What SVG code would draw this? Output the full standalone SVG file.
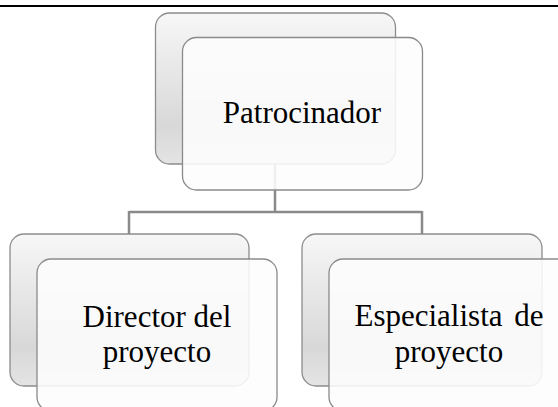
<svg xmlns="http://www.w3.org/2000/svg" width="558" height="407" viewBox="0 0 558 407">
  <defs>
    <linearGradient id="backGrad" x1="0" y1="0" x2="0" y2="1">
      <stop offset="0" stop-color="#f7f7f7"/>
      <stop offset="0.75" stop-color="#d8d8d8"/>
      <stop offset="1" stop-color="#e4e4e4"/>
    </linearGradient>
  </defs>
  <style>
    .back { fill: url(#backGrad); stroke: #8c8c8c; stroke-width: 1.3; }
    .front { fill: #fdfdfd; fill-opacity: 0.88; stroke: #8a8a8a; stroke-width: 1.3; }
    .conn { fill: none; stroke: #8a8a8a; stroke-width: 2.5; }
    .label { font-family: "Liberation Serif", "Times New Roman", serif; font-size: 31px; fill: #000; text-anchor: middle; }
  </style>
  <rect x="0" y="0" width="558" height="407" fill="#ffffff"/>
  <line x1="0" y1="6" x2="558" y2="6" stroke="#000" stroke-width="2.2"/>

  <g id="connectors">
    <path class="conn" d="M275,164 V212"/>
    <path class="conn" d="M129,212 H422"/>
    <path class="conn" d="M129,211 V235"/>
    <path class="conn" d="M422,211 V235"/>
  </g>

  <g id="node-patrocinador">
    <rect class="back" x="155.5" y="13" width="240" height="151" rx="14"/>
    <rect class="front" x="182.5" y="37.5" width="240" height="152.5" rx="14"/>
    <text class="label" x="302" y="123">Patrocinador</text>
  </g>

  <g id="node-director">
    <rect class="back" x="10" y="234" width="239" height="152" rx="14"/>
    <rect class="front" x="37" y="259" width="240" height="152" rx="14"/>
    <text class="label" x="157" y="327">Director del</text>
    <text class="label" x="157" y="362">proyecto</text>
  </g>

  <g id="node-especialista">
    <rect class="back" x="302" y="234" width="240" height="152" rx="14"/>
    <rect class="front" x="329" y="259" width="260" height="152" rx="14"/>
    <text class="label" x="449" y="326" word-spacing="4">Especialista de</text>
    <text class="label" x="449" y="362">proyecto</text>
  </g>
</svg>
